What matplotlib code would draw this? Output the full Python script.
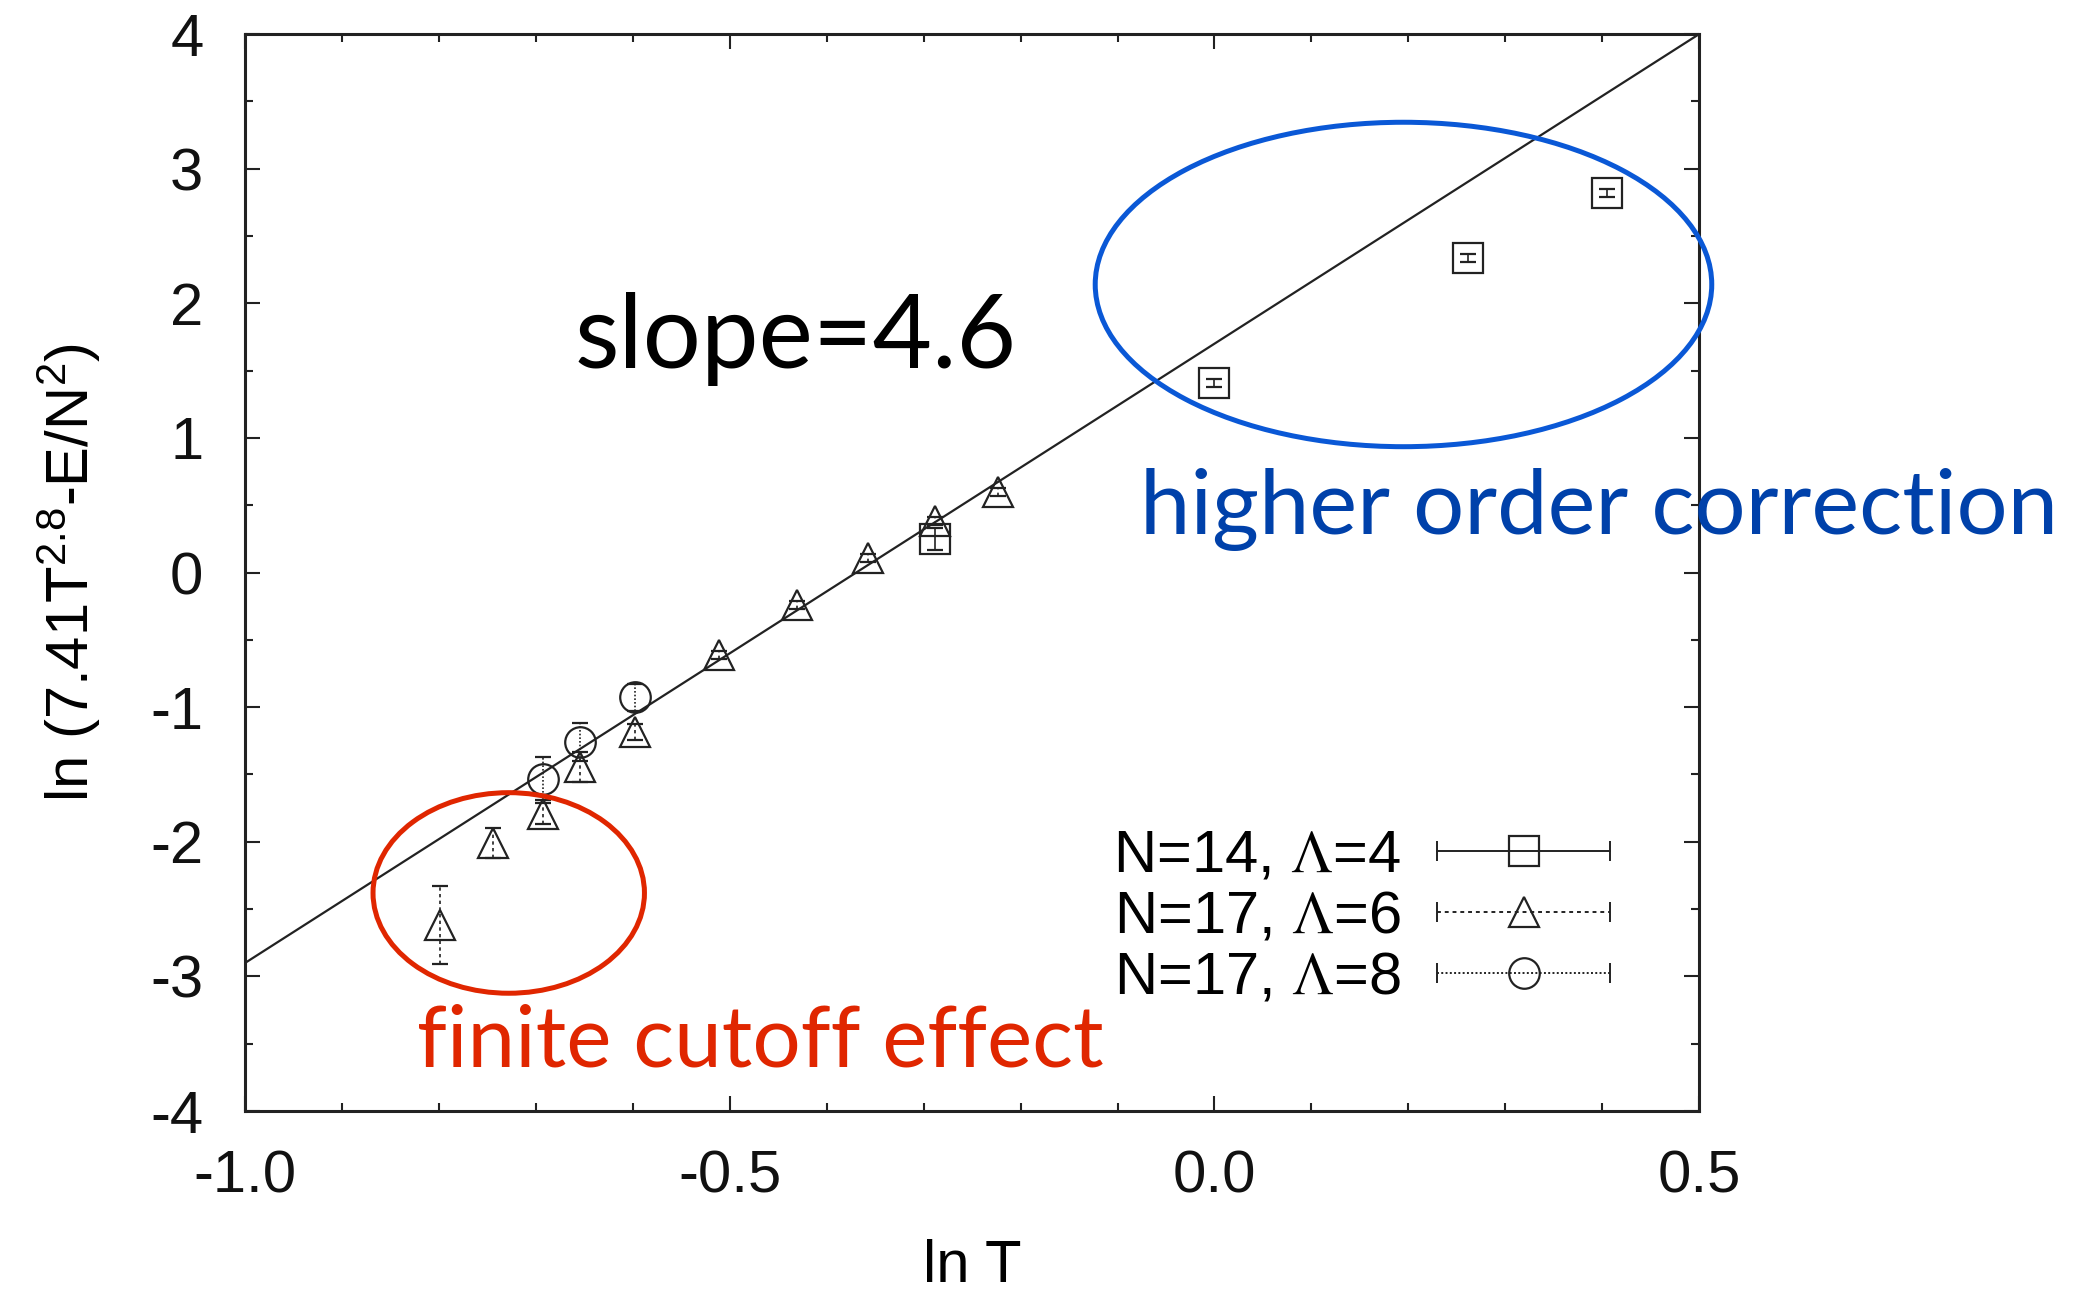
import matplotlib
matplotlib.use("Agg")
import matplotlib.pyplot as plt
from matplotlib.patches import Ellipse
from matplotlib.lines import Line2D
from matplotlib.legend_handler import HandlerLine2D, HandlerTuple
from matplotlib.ticker import MultipleLocator, FormatStrFormatter

# ---- data ----
# N=14, Lambda=4 (squares)
lnT_14 = [-0.288, 0.000, 0.262, 0.405]
val_14 = [0.25, 1.41, 2.34, 2.82]
err_14 = [0.08, 0.03, 0.03, 0.03]

# N=17, Lambda=6 (triangles)
lnT_17a = [-0.799, -0.744, -0.693, -0.654, -0.598, -0.511, -0.431, -0.357, -0.288, -0.223]
val_17a = [-2.62, -2.01, -1.79, -1.445, -1.185, -0.61, -0.24, 0.11, 0.38, 0.60]
err_17a = [0.29, 0.11, 0.08, 0.11, 0.06, 0.03, 0.03, 0.03, 0.03, 0.03]

# N=17, Lambda=8 (circles)
lnT_17b = [-0.693, -0.654, -0.598]
val_17b = [-1.53, -1.26, -0.925]
err_17b = [0.16, 0.14, 0.10]

# fitted line
fit_slope = 4.6
fit_icept = 1.7
fit_x = [-1.0, 0.5]

series_labels = ["N=14, $\\Lambda$=4", "N=17, $\\Lambda$=6", "N=17, $\\Lambda$=8"]

plt.rcParams["font.family"] = ["Liberation Sans", "DejaVu Sans"]
plt.rcParams["mathtext.fontset"] = "stix"
plt.rcParams["axes.unicode_minus"] = False

ink = "#222222"
fig = plt.figure(figsize=(20.91, 12.91), dpi=100)
ax = fig.add_axes([0.1172, 0.1394, 0.6954, 0.8342])

# fit line
ax.plot(fit_x, [fit_slope * x + fit_icept for x in fit_x], color=ink, lw=1.6, zorder=2)

# data with error bars
styles = [("s", "-"), ("^", (0, (2, 2))), ("o", (0, (1, 1.2)))]
series = [(lnT_14, val_14, err_14), (lnT_17a, val_17a, err_17a), (lnT_17b, val_17b, err_17b)]
for (xs, ys, es), (mk, ls) in zip(series, styles):
    eb = ax.errorbar(xs, ys, yerr=es, fmt=mk, ms=22, mfc="none", mec=ink, mew=1.6,
                     ecolor=ink, elinewidth=1.2, capsize=6, capthick=1.2, zorder=3)
    eb[2][0].set_linestyle(ls)

ax.set_xlim(-1.0, 0.5)
ax.set_ylim(-4, 4)
ax.xaxis.set_major_locator(MultipleLocator(0.5))
ax.xaxis.set_minor_locator(MultipleLocator(0.1))
ax.yaxis.set_major_locator(MultipleLocator(1))
ax.yaxis.set_minor_locator(MultipleLocator(0.5))
ax.xaxis.set_major_formatter(FormatStrFormatter("%.1f"))
ax.tick_params(which="both", direction="in", top=True, right=True, width=1.5, color=ink,
               labelsize=43, labelcolor="#111111")
ax.tick_params(which="major", length=11)
ax.tick_params(which="minor", length=6)
ax.tick_params(axis="y", pad=30)
ax.tick_params(axis="x", pad=28)
for sp in ax.spines.values():
    sp.set_linewidth(2.2)
    sp.set_color(ink)

ax.set_xlabel("ln T", fontsize=43, va="center")
ax.xaxis.set_label_coords(0.5, -0.144)
ax.set_ylabel("ln (7.41T$\\mathregular{^{2.8}}$-E/N$\\mathregular{^2}$)", fontsize=43, va="center")
ax.yaxis.set_label_coords(-0.121, 0.5)

# legend with gnuplot-style samples (line with end caps, marker in the middle)
handles = []
for mk, ls in styles:
    caps = Line2D([], [], color=ink, lw=1.4, ls=ls, marker="|", ms=14, mew=1.4)
    mark = Line2D([], [], ls="none", marker=mk, ms=22, mfc="none", mec=ink, mew=1.6)
    handles.append((caps, mark))
hmap = {h[0]: HandlerLine2D(numpoints=2, marker_pad=0) for h in handles}
hmap[tuple] = HandlerTuple(ndivide=1)
leg = ax.legend(handles, series_labels, handler_map=hmap, loc="center right",
                bbox_to_anchor=(0.976, 0.180), frameon=False, fontsize=43,
                markerfirst=False, handlelength=2.9, handletextpad=0.6,
                labelspacing=0.1, numpoints=1)

# annotations
ax.add_patch(Ellipse((0.195, 2.14), 0.636, 2.41, fill=False, ec="#0a58d6", lw=3.6,
                     clip_on=False, zorder=4))
ax.add_patch(Ellipse((-0.728, -2.38), 0.280, 1.49, fill=False, ec="#e02600", lw=3.6,
                     clip_on=False, zorder=4))
ax.text(-0.660, 1.52, "slope=4.6", fontsize=74, family="Lato", color="black",
        ha="left", va="baseline")
ax.text(-0.077, 0.29, "higher order correction", fontsize=65, family="Lato",
        color="#0041aa", ha="left", va="baseline")
ax.text(-0.823, -3.67, "finite cutoff effect", fontsize=61.5, family="Lato",
        color="#e02600", ha="left", va="baseline")

fig.savefig("out.png", dpi=100)
